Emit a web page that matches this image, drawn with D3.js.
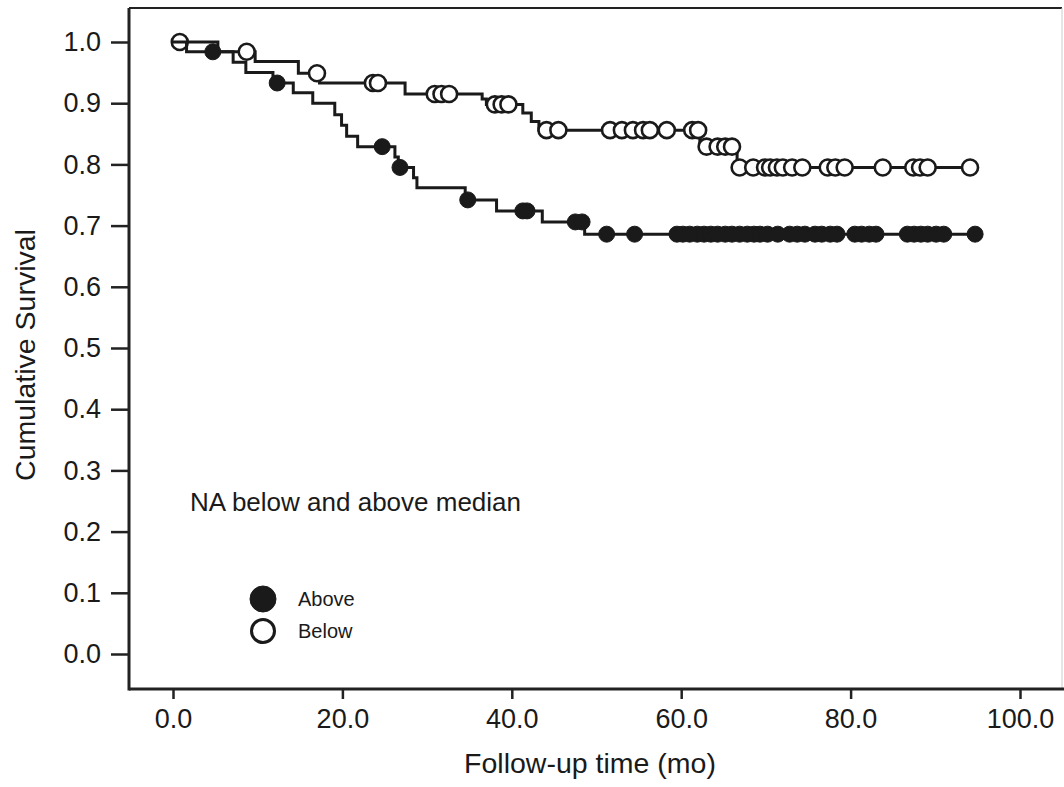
<!DOCTYPE html>
<html>
<head>
<meta charset="utf-8">
<script src="https://cdn.jsdelivr.net/npm/d3@7"></script>
<style>
  body { margin: 0; background: #fff; }
  svg { display: block; font-family: "Liberation Sans", Arial, sans-serif; }
  .curve { fill: none; stroke: #1a1a1a; stroke-width: 3; }
  .above { fill: #1a1a1a; stroke: #1a1a1a; stroke-width: 1; }
  .below { fill: #fff; stroke: #1a1a1a; stroke-width: 2.6; }
</style>
</head>
<body>
<script>
// Kaplan-Meier steps
var aboveEventTimes = [0, 1.6, 7.1, 8.6, 11.8, 14.2, 16.5, 19.1, 19.9, 20.5, 21.8, 26.2, 26.6, 28.4, 28.8, 34.5, 38.2, 43.6, 48.6];
var aboveSurvival = [1.0, 0.984, 0.967, 0.950, 0.933, 0.917, 0.900, 0.881, 0.864, 0.846, 0.829, 0.812, 0.795, 0.778, 0.762, 0.742, 0.724, 0.706, 0.686];
var aboveCensored = [4.7, 12.3, 24.7, 26.8, 34.8, 41.3, 41.8, 47.5, 48.3, 51.2, 54.5, 59.5, 60.2, 61.0, 61.9, 62.7, 63.5, 64.3, 65.2, 66.0, 66.9, 67.8, 68.6, 69.3, 70.2, 71.4, 72.8, 73.7, 74.6, 75.8, 76.6, 77.6, 78.4, 80.5, 81.3, 82.2, 83.0, 86.7, 87.5, 88.3, 89.1, 90.1, 91.0, 94.7];

var belowEventTimes = [0, 5.3, 9.7, 14.8, 17.3, 27.4, 36.5, 37.0, 41.3, 42.3, 43.2, 62.2, 66.6];
var belowSurvival = [1.0, 0.984, 0.968, 0.949, 0.933, 0.915, 0.907, 0.898, 0.884, 0.870, 0.856, 0.829, 0.795];
var belowCensored = [0.8, 8.7, 17.0, 23.6, 24.2, 30.9, 31.7, 32.6, 38.0, 38.8, 39.6, 44.1, 45.5, 51.6, 53.0, 54.3, 55.5, 56.3, 58.3, 61.3, 62.0, 63.0, 64.3, 65.2, 66.0, 66.9, 68.5, 69.9, 70.5, 71.3, 72.0, 73.1, 74.3, 77.3, 78.2, 79.3, 83.8, 87.4, 88.2, 89.1, 94.1];

var xTicks = [0, 20, 40, 60, 80, 100];
var yTicks = [0, 0.1, 0.2, 0.3, 0.4, 0.5, 0.6, 0.7, 0.8, 0.9, 1.0];
var groups = ["Above", "Below"];

var W = 1064, H = 787;
var frame = { left: 129, top: 8, right: 1062, bottom: 689 };

var x = d3.scaleLinear().domain([0, 100]).range([173, 1020]);
var y = d3.scaleLinear().domain([0, 1]).range([654, 42]);

var svg = d3.select("body").append("svg")
    .attr("width", W)
    .attr("height", H);

// frame
svg.append("line").attr("x1", frame.left).attr("x2", frame.right)
    .attr("y1", frame.top).attr("y2", frame.top)
    .attr("stroke", "#222").attr("stroke-width", 2);
svg.append("line").attr("x1", frame.right).attr("x2", frame.right)
    .attr("y1", frame.top).attr("y2", frame.bottom)
    .attr("stroke", "#ccc").attr("stroke-width", 1);

// axes
var yAxis = svg.append("g")
    .attr("transform", "translate(" + frame.left + ",0)")
    .call(d3.axisLeft(y).tickValues(yTicks).tickFormat(d3.format(".1f")).tickSize(18).tickPadding(10));
var xAxis = svg.append("g")
    .attr("transform", "translate(0," + frame.bottom + ")")
    .call(d3.axisBottom(x).tickValues(xTicks).tickFormat(d3.format(".1f")).tickSize(10).tickPadding(10));

[yAxis, xAxis].forEach(function (a) {
    a.select(".domain").remove();
    a.selectAll(".tick line").attr("stroke", "#222").attr("stroke-width", 2.5);
    a.selectAll(".tick text").attr("fill", "#1a1a1a")
        .style("font-family", "'Liberation Sans', Arial, sans-serif")
        .style("font-size", "27px");
});

svg.append("line").attr("x1", frame.left).attr("x2", frame.left)
    .attr("y1", frame.top).attr("y2", frame.bottom + 1.5)
    .attr("stroke", "#222").attr("stroke-width", 3);
svg.append("line").attr("x1", frame.left).attr("x2", W)
    .attr("y1", frame.bottom).attr("y2", frame.bottom)
    .attr("stroke", "#222").attr("stroke-width", 3);

// axis titles
svg.append("text")
    .attr("transform", "translate(35,355) rotate(-90)")
    .attr("text-anchor", "middle")
    .attr("fill", "#1a1a1a")
    .style("font-size", "28.5px")
    .text("Cumulative Survival");
svg.append("text")
    .attr("x", 590).attr("y", 773)
    .attr("text-anchor", "middle")
    .attr("fill", "#1a1a1a")
    .style("font-size", "28.5px")
    .text("Follow-up time (mo)");

// KM curves
function stepAt(times, surv, t) {
    var i = d3.bisectRight(times, t) - 1;
    return surv[Math.max(0, i)];
}

var line = d3.line()
    .x(function (d) { return x(d[0]); })
    .y(function (d) { return y(d[1]); })
    .curve(d3.curveStepAfter);

function drawGroup(times, surv, cens, cls) {
    var pts = times.map(function (t, i) { return [t, surv[i]]; });
    var last = d3.max(cens);
    pts.push([last, stepAt(times, surv, last)]);
    svg.append("path").datum(pts).attr("class", "curve").attr("d", line);
    svg.selectAll("circle." + cls + "-pt")
        .data(cens)
        .enter().append("circle")
        .attr("class", cls + " " + cls + "-pt")
        .attr("cx", function (d) { return x(d); })
        .attr("cy", function (d) { return y(stepAt(times, surv, d)); })
        .attr("r", 8);
}

drawGroup(belowEventTimes, belowSurvival, belowCensored, "below");
drawGroup(aboveEventTimes, aboveSurvival, aboveCensored, "above");

// annotation + legend
svg.append("text")
    .attr("x", 190).attr("y", 511)
    .attr("fill", "#1a1a1a")
    .style("font-size", "26px")
    .text("NA below and above median");

var legend = svg.append("g");
groups.forEach(function (g, i) {
    var cy = 599 + i * 32;
    legend.append("circle")
        .attr("cx", 263).attr("cy", cy).attr("r", i === 0 ? 13 : 11.5)
        .attr("fill", i === 0 ? "#1a1a1a" : "#fff")
        .attr("stroke", "#1a1a1a").attr("stroke-width", i === 0 ? 1 : 3);
    legend.append("text")
        .attr("x", 298).attr("y", cy + 7)
        .attr("fill", "#1a1a1a")
        .style("font-size", "20px")
        .text(g);
});
</script>
</body>
</html>
